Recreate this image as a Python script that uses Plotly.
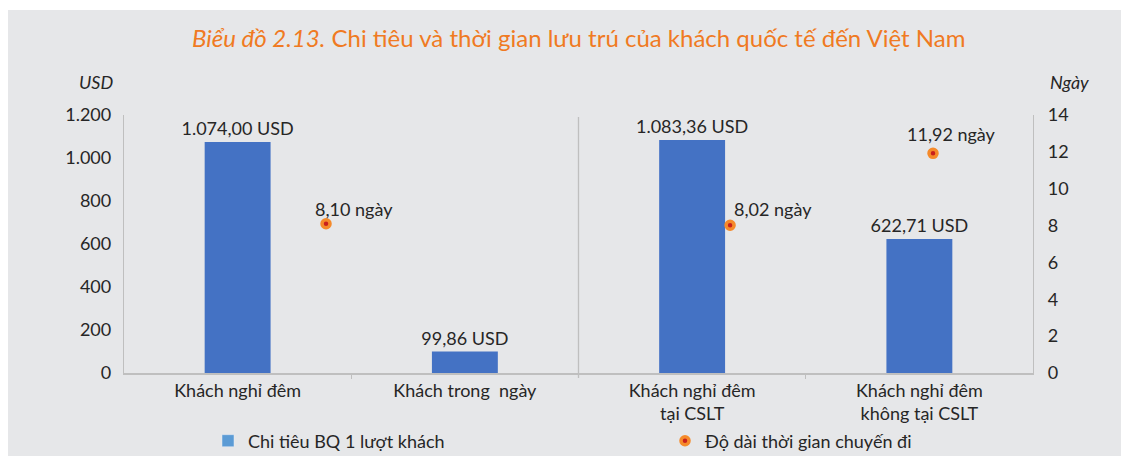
import plotly.graph_objects as go

categories = ["Khách nghỉ đêm", "Khách trong  ngày", "Khách nghỉ đêm<br>tại CSLT", "Khách nghỉ đêm<br>không tại CSLT"]
spend_usd = [1074.00, 99.86, 1083.36, 622.71]
stay_days = [8.10, 8.02, 11.92]
# marker positions along the category axis (category index units)
stay_pos = [0.389, 2.167, 3.06]
usd_ticks = [0, 200, 400, 600, 800, 1000, 1200]
day_ticks = [0, 2, 4, 6, 8, 10, 12, 14]

bar_name = "Chi tiêu BQ 1 lượt khách"
dot_name = "Độ dài thời gian chuyến đi"
title_it = "Biểu đồ 2.13."
title_rest = " Chi tiêu và thời gian lưu trú của khách quốc tế đến Việt Nam"


def vn(v, dec=2):
    s = f"{v:,.{dec}f}"
    return s.replace(",", "X").replace(".", ",").replace("X", ".")


def vn_int(v):
    return f"{v:,}".replace(",", ".")


FONT = "Lato"
TXT = "#262626"
BG = "#E6E7E9"
AX = "#BFBFBF"
FS = 18

# the page body adds an 8px offset; the figure is sized to fill the remaining window
OFF = 8
W, H = 1129 - OFF, 456 - OFF
ML = 124 - OFF
MR = 1129 - 1033
MT = 115 - OFF
MB = H - (373 - OFF)
PW, PH = W - ML - MR, H - MT - MB


def fx(xr):
    return (xr - OFF - ML) / PW


def fy(yr):
    return (H - MB - (yr - OFF)) / PH


xidx = list(range(len(categories)))

fig = go.Figure()
fig.add_trace(go.Bar(
    x=xidx, y=spend_usd, width=0.29,
    marker=dict(color="#4472C4", line=dict(width=0)),
    text=[vn(v) + " USD" for v in spend_usd], textposition="outside",
    constraintext="none",
    textfont=dict(family=FONT, size=FS, color=TXT), cliponaxis=False,
    showlegend=False, hoverinfo="skip",
))
# legend swatch (lighter blue in the reference legend)
fig.add_trace(go.Bar(
    x=[None], y=[None], name=bar_name, marker=dict(color="#5B9BD5"),
    legend="legend", showlegend=True,
))
fig.add_trace(go.Scatter(
    x=stay_pos, y=stay_days, yaxis="y2", mode="markers", name=dot_name,
    marker=dict(size=8, color="#C8201E", line=dict(color="#F58A2A", width=3.5)),
    legend="legend2", cliponaxis=False,
))

label_shift = [(-13, 15, "left"), (2, 16, "left"), (-28, 19, "left")]
for px_, d, (dx, dy, anc) in zip(stay_pos, stay_days, label_shift):
    fig.add_annotation(x=px_, y=d, xref="x", yref="y2", text=vn(d) + " ngày",
                       showarrow=False, xanchor=anc, yanchor="middle",
                       xshift=dx, yshift=dy,
                       font=dict(family=FONT, size=FS, color=TXT))

# grey panel
fig.add_shape(type="rect", xref="paper", yref="paper",
              x0=-ML / PW - 0.01, x1=(W - ML) / PW + 0.01,
              y0=-(MB + 2) / PH, y1=fy(10),
              fillcolor=BG, line=dict(width=0), layer="below")
# full-height separator between the two groups
fig.add_shape(type="line", xref="x", yref="paper", x0=1.5, x1=1.5,
              y0=-5 / PH, y1=1 - 2 / PH, line=dict(color=AX, width=1.3))

fig.add_annotation(xref="paper", yref="paper", x=0.5, y=fy(38),
                   text=f"<i>{title_it}</i>{title_rest}", showarrow=False,
                   xanchor="center", yanchor="middle",
                   font=dict(family=FONT, size=24, color="#F07A22"))
fig.add_annotation(xref="paper", yref="paper", x=fx(96), y=fy(82),
                   text="<i>USD</i>", showarrow=False, xanchor="center", yanchor="middle",
                   font=dict(family=FONT, size=FS, color=TXT))
fig.add_annotation(xref="paper", yref="paper", x=fx(1069), y=fy(82),
                   text="<i>Ngày</i>", showarrow=False, xanchor="center", yanchor="middle",
                   font=dict(family=FONT, size=FS, color=TXT))

fig.update_layout(
    width=W, height=H,
    margin=dict(l=ML, r=MR, t=MT, b=MB, pad=0, autoexpand=False),
    paper_bgcolor="white", plot_bgcolor="rgba(0,0,0,0)",
    barmode="overlay",
    font=dict(family=FONT, size=FS, color=TXT),
    xaxis=dict(
        range=[-0.5, len(categories) - 0.5], tickmode="array", tickvals=xidx,
        ticktext=categories, ticks="", showgrid=False, zeroline=False,
        showline=True, linecolor=AX, linewidth=2,
        tickfont=dict(family=FONT, size=FS, color=TXT),
        minor=dict(tickmode="array", tickvals=[0.5, 2.5], ticks="outside",
                   ticklen=4, tickcolor=AX, showgrid=False),
    ),
    yaxis=dict(
        range=[0, 1200], tickmode="array", tickvals=usd_ticks,
        ticktext=[vn_int(v) for v in usd_ticks], ticks="", showgrid=False,
        zeroline=False, showline=True, linecolor=AX, linewidth=1.3,
        ticklabelstandoff=8, tickfont=dict(family=FONT, size=FS, color=TXT),
    ),
    yaxis2=dict(
        range=[0, 14], tickmode="array", tickvals=day_ticks, overlaying="y",
        side="right", ticks="", showgrid=False, zeroline=False, showline=True,
        linecolor=AX, linewidth=1.3, ticklabelstandoff=10,
        tickfont=dict(family=FONT, size=FS, color=TXT),
    ),
    legend=dict(orientation="h", x=fx(208), y=fy(441),
                xanchor="left", yanchor="middle", bgcolor="rgba(0,0,0,0)",
                font=dict(family=FONT, size=FS, color=TXT)),
    legend2=dict(orientation="h", x=fx(665), y=fy(441),
                 xanchor="left", yanchor="middle", bgcolor="rgba(0,0,0,0)",
                 font=dict(family=FONT, size=FS, color=TXT)),
)

fig.write_html("out.html")
